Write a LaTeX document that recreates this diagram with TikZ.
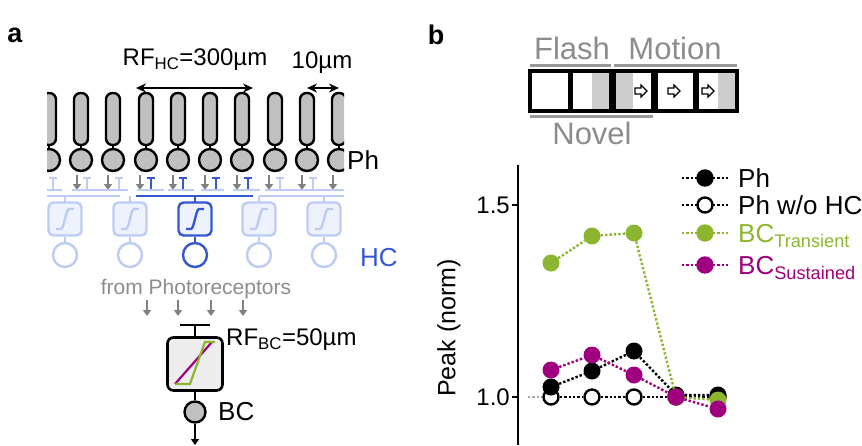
\documentclass[tikz,border=0pt]{standalone}
\usepackage{fontspec}
\setmainfont{Liberation Sans}
\usetikzlibrary{arrows.meta}
\definecolor{grn}{HTML}{8DB630}
\definecolor{mag}{HTML}{A0007F}
\definecolor{dblue}{HTML}{3558D0}
\definecolor{lblue}{HTML}{BCCCF4}
\definecolor{lfill}{HTML}{EEF2FC}
\definecolor{gfill}{HTML}{C0C0C0}
\definecolor{gtxt}{HTML}{8C8C8C}
\begin{document}
\begin{tikzpicture}[x=1pt,y=-1pt,
  rod/.style={draw=black,line width=2.4pt,fill=gfill,rounded corners=6.5pt},
  soma/.style={circle,draw=black,line width=2.4pt,fill=gfill,minimum size=22pt,inner sep=0},
  garr/.style={draw=gray,line width=2.4pt,-{Triangle[length=6pt,width=8pt]}},
  lab/.style={font=\fontsize{26}{26}\selectfont,inner sep=0},
  dim/.style={line width=2pt,{Stealth[length=10pt,width=9pt]}-{Stealth[length=10pt,width=9pt]}},
  hcbox/.style={draw,line width=2.4pt,rounded corners=5pt,minimum size=33pt,inner sep=0},
  hcc/.style={circle,draw,line width=2.4pt,fill=white,minimum size=24pt,inner sep=0},
  dl/.style={dotted,line width=2.4pt},
  pt/.style={circle,minimum size=17pt,inner sep=0},
  frm/.style={draw=black,line width=2.6pt,fill=white},
  glab/.style={font=\fontsize{31}{31}\selectfont,text=gtxt,inner sep=0},
  gline/.style={draw=gray!80,line width=3pt}]
\useasboundingbox (0,0) rectangle (862,445);
\node[font=\bfseries\fontsize{27}{27}\selectfont] (la) at (15,35) {a};
\node[font=\bfseries\fontsize{27}{27}\selectfont] (lb) at (436,35) {b};
% photoreceptors
\begin{scope}
\clip (47,80) rectangle (344,200);
\foreach \i/\x in {0/49,1/81,2/113,3/146,4/178,5/210,6/242,7/275,8/307,9/339}{
  \draw[rod] (\x-7,93) rectangle (\x+7,145);
  \draw[line width=2.4pt] (\x,145) -- (\x,150);
  \node[soma] (ph\i) at (\x,160) {};
}
\foreach \x in {77,108,140,173,205,237,269,302,333}
  \draw[garr] (\x,175) -- (\x,190);
\foreach \x/\c in {53/lblue,87/lblue,119/lblue,151/dblue,183/dblue,216/dblue,248/dblue,280/lblue,313/lblue}
  \draw[\c,line width=2.4pt] (\x,190) -- (\x,178) (\x-4,178) -- (\x+4,178);
\draw[lblue,line width=2.4pt] (47,190) -- (62,190) (72,190) -- (128,190) (137,190)--(164,190) (168,190)--(194,190) (201,190)--(224,190) (233,190)--(260,190) (265,190)--(344,190);
\end{scope}
% HC
\draw[lblue,line width=2.4pt] (47,196) -- (120,196) (259,196)--(344,196);
\draw[dblue,line width=2.4pt] (136,196) -- (253,196);
\foreach \i/\x/\c/\f in {1/65/lblue/lfill,2/130/lblue/lfill,3/195/dblue/lfill,4/259/lblue/lfill,5/324/lblue/lfill}{
  \draw[\c,line width=2.4pt] (\x,196) -- (\x,202);
  \node[hcbox,draw=\c,fill=\f] (hb\i) at (\x,219) {};
  \draw[\c,line width=2.4pt] (\x-9,229) -- (\x-4,229) .. controls (\x-1,229) and (\x+1,209) .. (\x+4,209) -- (\x+9,209);
  \node[hcc,draw=\c] (hc\i) at (\x,255) {};
  \draw[\c,line width=2.4pt] (hb\i.south) -- (hc\i.north);
}
\node[lab,anchor=west] (phl) at (347,160) {Ph};
\node[lab,anchor=west,text=dblue] (hcl) at (360,258) {HC};
\coordinate (r1) at (136,88); \coordinate (r2) at (253,88);
\draw[dim] (r1) -- (r2);
\node[lab,font=\fontsize{24}{24}\selectfont] (rfhc) at (195,60) {RF\textsubscript{HC}=300µm};
\coordinate (t1) at (307,88); \coordinate (t2) at (339,88);
\draw[dim] (t1) -- (t2);
\node[lab,font=\fontsize{24}{24}\selectfont] (tenum) at (322,63) {10µm};
% BC
\node[text=gtxt,font=\fontsize{21}{21}\selectfont,inner sep=0] (fp) at (196,289) {from Photoreceptors};
\foreach \x in {147,178,211,243} \draw[garr] (\x,300) -- (\x,316);
\draw[line width=2.4pt] (180,325) -- (210,325) (195,325) -- (195,337);
\node[draw,line width=2.6pt,fill=black!7,rounded corners=6pt,minimum width=55pt,minimum height=53pt,inner sep=0] (bcb) at (195,364) {};
\draw[mag,line width=2.2pt] (175,384) -- (212,342);
\draw[grn,line width=2.2pt] (175,384) -- (190,384) -- (205,342) -- (215,342);
\node[soma,minimum size=21pt] (bc) at (195,412) {};
\draw[line width=2.4pt] (bcb.south) -- (bc.north);
\coordinate (bcend) at (195,445);
\draw[line width=2.4pt,-{Triangle[length=6pt,width=8pt]}] (bc.south) -- (bcend);
\node[lab,anchor=west] (bcl) at (218,412) {BC};
\node[lab,anchor=west,font=\fontsize{24}{24}\selectfont] (rfbc) at (226,340) {RF\textsubscript{BC}=50µm};
% stimulus boxes
\node[frm,minimum width=38pt,minimum height=38pt,inner sep=0] (s1) at (550,91) {};
\node[frm,minimum width=38pt,minimum height=38pt,inner sep=0] (s2) at (591,91) {};
\node[frm,minimum width=38pt,minimum height=38pt,inner sep=0] (s3) at (633.5,91) {};
\node[frm,minimum width=38pt,minimum height=38pt,inner sep=0] (s4) at (675.5,91) {};
\node[frm,minimum width=38pt,minimum height=38pt,inner sep=0] (s5) at (717,91) {};
\fill[gfill!80] (592,73) rectangle (609,109);
\fill[gfill!80] (615.5,73) rectangle (633,109);
\fill[gfill!80] (718,73) rectangle (735,109);
\foreach \n in {s1,s2,s3,s4,s5} \draw[line width=2.6pt] (\n.south west) rectangle (\n.north east);
\foreach \x in {635,668,702}
  \draw[line width=1.2pt,fill=white] (\x,88) -- (\x+6,88) -- (\x+6,85) -- (\x+12,91) -- (\x+6,97) -- (\x+6,94) -- (\x,94) -- cycle;
\coordinate (f1) at (530,65); \coordinate (f2) at (611,65);
\draw[gline] (f1) -- (f2);
\coordinate (m1) at (614,65); \coordinate (m2) at (737,65);
\draw[gline] (m1) -- (m2);
\coordinate (n1) at (530,116); \coordinate (n2) at (653,116);
\draw[gline] (n1) -- (n2);
\node[glab] (flash) at (572,48) {Flash};
\node[glab] (motion) at (675,48) {Motion};
\node[glab] (novel) at (592,133) {Novel};
% plot
\coordinate (ax1) at (518,165); \coordinate (ax2) at (518,445);
\draw[line width=2.4pt] (ax1) -- (ax2);
\draw[line width=2pt] (512,205) -- (518,205) (512,397) -- (518,397);
\node[lab,anchor=east,font=\fontsize{24}{24}\selectfont] (t15) at (510,205) {1.5};
\node[lab,anchor=east,font=\fontsize{24}{24}\selectfont] (t10) at (510,397) {1.0};
\node[lab,rotate=90,font=\fontsize{25}{25}\selectfont] (yl) at (449,328) {Peak (norm)};
\coordinate (g1) at (528,397); \coordinate (g2) at (545,397);
\draw[gray!70,dl] (g1) -- (g2);
% series
\foreach \i/\x/\y in {1/551/397,2/592/397,3/634/397,4/676/397,5/718/397} \node[pt,draw=black,line width=2.4pt,fill=white,minimum size=15pt] (o\i) at (\x,\y) {};
\draw[dl] (o1)--(o2)--(o3)--(o4)--(o5);
\foreach \i/\x/\y in {1/551/387,2/592/371,3/634/351,4/676/395,5/718/395} \node[pt,fill=black] (k\i) at (\x,\y) {};
\draw[dl] (k1)--(k2)--(k3)--(k4)--(k5);
\foreach \i/\x/\y in {1/551/263,2/592/236,3/634/233,4/676/397,5/718/400} \node[pt,fill=grn] (gr\i) at (\x,\y) {};
\draw[dl,grn] (gr1)--(gr2)--(gr3)--(gr4)--(gr5);
\foreach \i/\x/\y in {1/551/370,2/592/355,3/634/375,4/676/397,5/718/409} \node[pt,fill=mag] (mg\i) at (\x,\y) {};
\draw[dl,mag] (mg1)--(mg2)--(mg3)--(mg4)--(mg5);
% legend
\foreach \j/\y/\c/\f in {1/178/black/black,2/205/black/white,3/233/grn/grn,4/265/mag/mag}{
  \coordinate (la\j) at (682,\y); \coordinate (lc\j) at (728,\y);
  \draw[dl,\c] (la\j) -- (lc\j);
  \node[pt,draw=\c,line width=2.4pt,fill=\f,minimum size=15pt] (lm\j) at (705,\y) {};
}
\node[lab,anchor=west] (l1) at (738,178) {Ph};
\node[lab,anchor=west] (l2) at (738,205) {Ph w/o HC};
\node[lab,anchor=west,text=grn] (l3) at (738,236) {BC\textsubscript{Transient}};
\node[lab,anchor=west,text=mag] (l4) at (738,268) {BC\textsubscript{Sustained}};
\end{tikzpicture}
\end{document}
